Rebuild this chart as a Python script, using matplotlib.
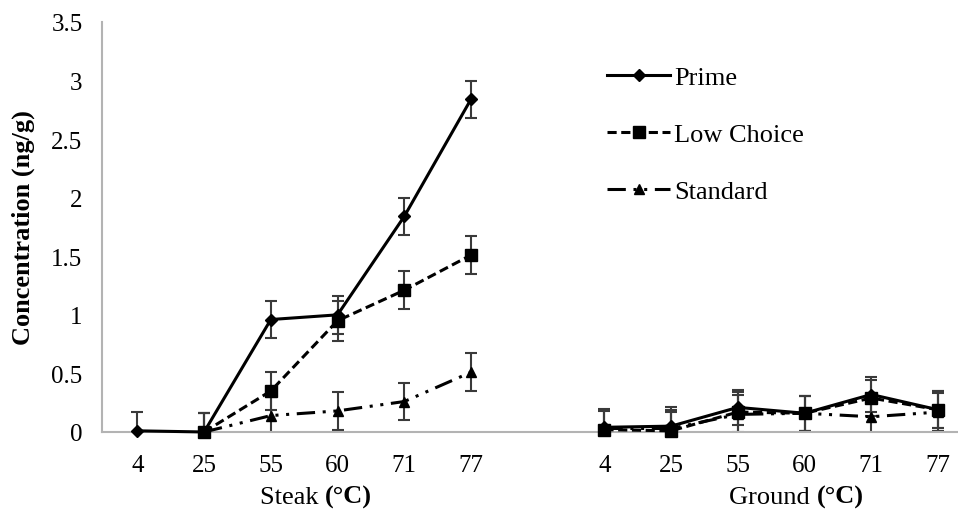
import matplotlib
matplotlib.use("Agg")
import matplotlib.pyplot as plt
import numpy as np
from matplotlib.offsetbox import TextArea, HPacker, AnnotationBbox

plt.rcParams['font.family'] = ['Liberation Serif', 'DejaVu Serif']
plt.rcParams['font.size'] = 18

temps = ['4', '25', '55', '60', '71', '77']
nan = np.nan

# steak
steak_prime = [0.01, 0.0, 0.96, 1.0, 1.84, 2.84]
steak_low = [nan, 0.0, 0.35, 0.95, 1.21, 1.51]
steak_std = [nan, 0.0, 0.14, 0.18, 0.26, 0.51]
steak_prime_err = [0.16, 0.16, 0.16, 0.16, 0.16, 0.16]
steak_low_err = [nan, 0.16, 0.16, 0.17, 0.16, 0.16]
steak_std_err = [nan, 0.16, 0.16, 0.16, 0.16, 0.16]

# ground
ground_prime = [0.04, 0.05, 0.21, 0.16, 0.32, 0.19]
ground_low = [0.02, 0.01, 0.17, 0.16, 0.29, 0.19]
ground_std = [0.03, 0.03, 0.15, 0.16, 0.13, 0.17]
ground_prime_err = [0.16, 0.16, 0.15, 0.15, 0.15, 0.16]
ground_low_err = [0.16, 0.16, 0.17, 0.15, 0.15, 0.16]
ground_std_err = [0.16, 0.16, 0.17, 0.15, 0.15, 0.16]

series = [
    ('Prime', steak_prime, steak_prime_err, ground_prime, ground_prime_err,
     '-', 'D', 6),
    ('Low Choice', steak_low, steak_low_err, ground_low, ground_low_err,
     (0, (3, 1.5)), 's', 8),
    ('Standard', steak_std, steak_std_err, ground_std, ground_std_err,
     (0, (6, 2.5, 1, 2.5, 1, 2.5)), '^', 7),
]

x_steak = np.arange(6)
x_ground = np.arange(6) + 7

fig = plt.figure(figsize=(9.58, 5.10), dpi=100)
ax = fig.add_axes([0.1065, 0.151, 0.8935, 0.804])

for name, sv, se, gv, ge, ls, mk, ms in series:
    for xs, vals, errs in ((x_steak, sv, se), (x_ground, gv, ge)):
        ax.errorbar(xs, vals, yerr=errs, fmt='none', ecolor='#3a3a3a',
                    elinewidth=1.5, capsize=4.5, capthick=1.5, zorder=2)
    ax.plot(x_steak, sv, color='black', linestyle=ls, linewidth=2.2,
            marker=mk, markersize=ms, clip_on=False, zorder=3, label=name)
    ax.plot(x_ground, gv, color='black', linestyle=ls, linewidth=2.2,
            marker=mk, markersize=ms, clip_on=False, zorder=3)

ax.set_xlim(-0.53, 12.3)
ax.set_ylim(0, 3.5)
ax.set_yticks(np.arange(0, 3.51, 0.5))
ax.set_yticklabels(['0', '0.5', '1', '1.5', '2', '2.5', '3', '3.5'])
ax.set_xticks(np.concatenate([x_steak, x_ground]))
ax.set_xticklabels(temps + temps)
ax.tick_params(axis='both', length=0)
ax.tick_params(axis='x', pad=16)
ax.tick_params(axis='y', pad=14)

for s in ['top', 'right']:
    ax.spines[s].set_visible(False)
for s in ['left', 'bottom']:
    ax.spines[s].set_color('#b3b3b3')
    ax.spines[s].set_linewidth(1.5)

ax.set_ylabel('Concentration (ng/g)', fontweight='bold', fontsize=19, labelpad=12)

# x group labels: plain name + bold unit
for xc, word in ((2.68, 'Steak '), (9.88, 'Ground ')):
    box = HPacker(children=[
        TextArea(word, textprops=dict(fontsize=19)),
        TextArea('(°C)', textprops=dict(fontsize=19, fontweight='bold'))],
        pad=0, sep=0, align='baseline')
    ab = AnnotationBbox(box, (xc, -0.157), xycoords=('data', 'axes fraction'),
                        frameon=False, box_alignment=(0.5, 0.5),
                        annotation_clip=False)
    ax.add_artist(ab)

ax.legend(loc='upper left', bbox_to_anchor=(0.59, 0.893), frameon=False,
          handlelength=2.4, handletextpad=0.15, labelspacing=1.27,
          borderpad=0, borderaxespad=0, fontsize=19)

fig.savefig('out.png', dpi=100)
